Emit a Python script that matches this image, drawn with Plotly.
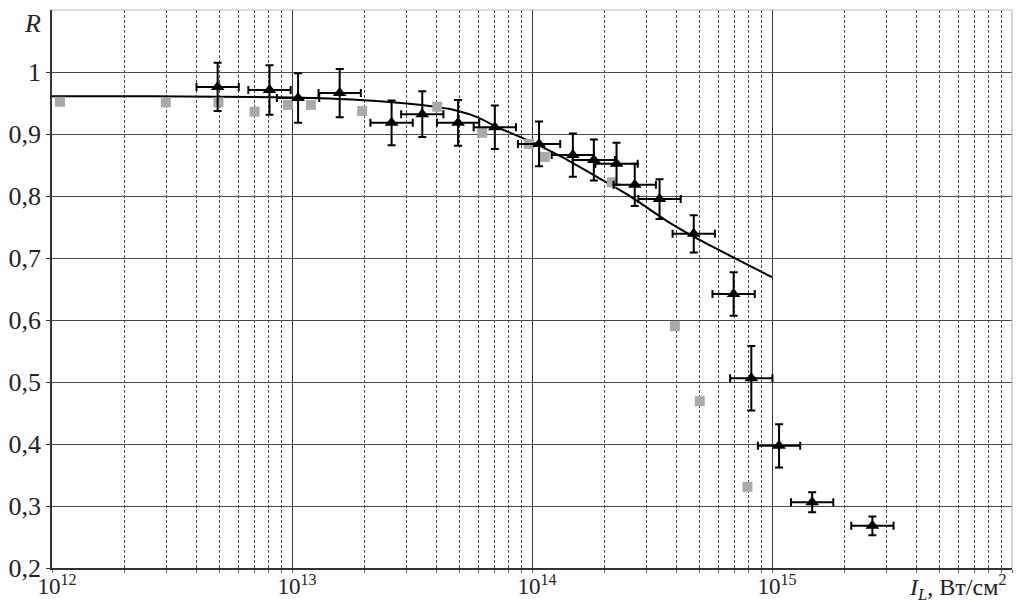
import plotly.graph_objects as go

# ---- data ----
# experimental points with error bars (black triangles)
tri_I = [4.9e12, 8.06e12, 1.06e13, 1.58e13, 2.6e13, 3.49e13, 4.92e13, 7.0e13,
         1.07e14, 1.48e14, 1.81e14, 2.25e14, 2.68e14, 3.4e14, 4.72e14,
         6.92e14, 8.2e14, 1.07e15, 1.47e15, 2.62e15]
tri_R = [0.976, 0.971, 0.958, 0.966, 0.918, 0.932, 0.918, 0.911,
         0.884, 0.866, 0.858, 0.852, 0.818, 0.795, 0.739,
         0.642, 0.506, 0.397, 0.306, 0.268]
tri_Rerr = [0.039, 0.040, 0.040, 0.039, 0.036, 0.037, 0.037, 0.035,
            0.036, 0.035, 0.033, 0.034, 0.034, 0.032, 0.030,
            0.035, 0.052, 0.035, 0.016, 0.015]
tri_Ifactor = 1.225  # multiplicative x uncertainty

# grey squares (second data set)
sq_I = [1.08e12, 2.98e12, 4.94e12, 6.98e12, 9.6e12, 1.2e13, 1.96e13, 4.03e13,
        6.2e13, 9.7e13, 1.13e14, 2.15e14, 3.94e14, 5.0e14, 7.9e14]
sq_R = [0.952, 0.951, 0.951, 0.936, 0.947, 0.947, 0.937, 0.944,
        0.902, 0.884, 0.863, 0.822, 0.590, 0.469, 0.331]

# model curve
fit_I = [1e12, 2.55e12, 1e13, 1.91e13, 3.39e13, 4.83e13, 6.02e13, 7.08e13,
         1e14, 1.33e14, 1.9e14, 2.53e14, 3.71e14, 4.95e14, 1e15]
fit_R = [0.961, 0.961, 0.959, 0.955, 0.947, 0.938, 0.926, 0.912,
         0.887, 0.863, 0.829, 0.801, 0.758, 0.730, 0.669]

x_ticks = [1e12, 1e13, 1e14, 1e15]
x_ticktext = ["10<sup>12</sup>", "10<sup>13</sup>", "10<sup>14</sup>", "10<sup>15</sup>"]
y_ticks = [0.2, 0.3, 0.4, 0.5, 0.6, 0.7, 0.8, 0.9, 1.0]
y_ticktext = ["0,2", "0,3", "0,4", "0,5", "0,6", "0,7", "0,8", "0,9", "1"]

FONT = "Liberation Serif"
FS_Y = 26
FS_X = 23
GRID = "#4a4a4a"

err_plus = [x * (tri_Ifactor - 1) for x in tri_I]
err_minus = [x * (1 - 1 / tri_Ifactor) for x in tri_I]

fig = go.Figure()

fig.add_trace(go.Scatter(
    x=fit_I, y=fit_R, mode="lines",
    line=dict(color="black", width=2, shape="spline", smoothing=0.6),
    showlegend=False, hoverinfo="skip"))

fig.add_trace(go.Scatter(
    x=sq_I, y=sq_R, mode="markers",
    marker=dict(symbol="square", size=10, color="#a9a9a9"),
    showlegend=False))

fig.add_trace(go.Scatter(
    x=tri_I, y=tri_R, mode="markers",
    marker=dict(symbol="triangle-up", size=12, color="black"),
    error_y=dict(type="data", array=tri_Rerr, color="black", thickness=2, width=4),
    error_x=dict(type="data", array=err_plus, arrayminus=err_minus,
                 color="black", thickness=2, width=4),
    showlegend=False))

fig.update_layout(
    width=1017, height=603,
    margin=dict(l=52, r=5, t=10, b=35),
    paper_bgcolor="white", plot_bgcolor="white",
    font=dict(family=FONT, size=FS_Y, color="#222"),
    xaxis=dict(
        type="log", range=[12, 16], automargin=False,
        tickmode="array", tickvals=x_ticks, ticktext=x_ticktext,
        showgrid=True, gridcolor="#333", gridwidth=1.3,
        minor=dict(dtick="D1", showgrid=True, gridcolor=GRID, gridwidth=1.1,
                   griddash="3px,2px", ticks="outside", ticklen=3,
                   tickcolor="#666"),
        showline=True, linecolor="#333", linewidth=1.5,
        zeroline=False, ticks="", ticklabelshift=5, ticklabelstandoff=-3,
        tickfont=dict(family=FONT, size=FS_X, color="#222"),
    ),
    yaxis=dict(
        range=[0.2, 1.1], automargin=False,
        tickmode="array", tickvals=y_ticks, ticktext=y_ticktext,
        showgrid=True, gridcolor=GRID, gridwidth=1.3,
        showline=True, linecolor="#333", linewidth=1.5,
        zeroline=False, ticks="outside", ticklen=4, tickcolor="#333",
        tickfont=dict(family=FONT, size=FS_Y, color="#222"),
    ),
    shapes=[
        dict(type="line", xref="paper", yref="paper", x0=0, x1=1, y0=1, y1=1,
             line=dict(color="#b8b8b8", width=1.2)),
        dict(type="line", xref="paper", yref="paper", x0=1, x1=1, y0=0, y1=1,
             line=dict(color="#b8b8b8", width=1.2)),
    ],
    annotations=[
        dict(text="<i>R</i>", xref="paper", yref="paper", x=-0.02, y=0.975,
             xanchor="center", yanchor="middle", showarrow=False,
             font=dict(family=FONT, size=FS_Y, color="#222")),
        dict(text="<i>I</i><sub><i>L</i></sub>, Вт/см<sup>2</sup>",
             xref="paper", yref="paper", x=0.997, y=-0.034,
             xanchor="right", yanchor="middle", showarrow=False,
             font=dict(family=FONT, size=24, color="#222")),
    ],
)

fig.write_html(
    "out.html",
    config={"displayModeBar": False},
    post_script="document.body.style.margin='0';document.body.style.padding='0';"
                "document.documentElement.style.overflow='hidden';",
)
